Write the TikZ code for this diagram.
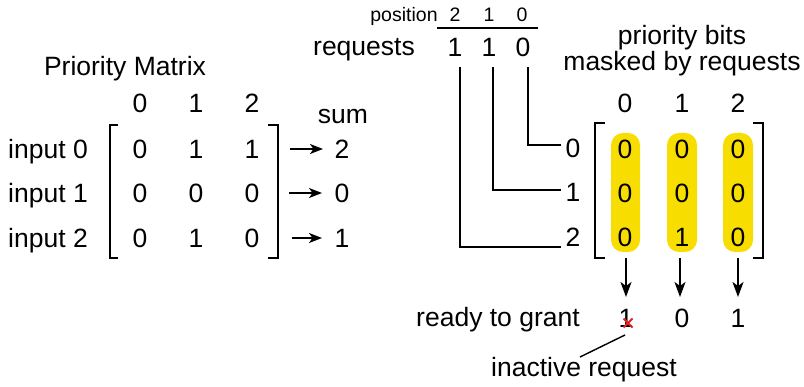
\documentclass[tikz,border=0pt]{standalone}
\usepackage{fontspec}
\setmainfont{Liberation Sans}
\usetikzlibrary{arrows.meta,calc}
\definecolor{pillyellow}{RGB}{248,222,0}
\definecolor{xred}{RGB}{225,35,35}
\begin{document}
\begin{tikzpicture}[x=1pt,y=-1pt,
  txt/.style={inner sep=0pt,anchor=base,font=\fontsize{26.5}{30}\selectfont},
  smalltxt/.style={inner sep=0pt,anchor=base,font=\fontsize{19.5}{22}\selectfont},
  ln/.style={line width=1.6pt},
  brk/.style={line width=1.8pt},
  arr/.style={line width=1.6pt,-{Stealth[length=13pt,width=10pt,inset=3.5pt]}},
  darr/.style={line width=1.6pt,-{Stealth[length=15pt,width=11pt,inset=4pt]}},
  pill/.style={fill=pillyellow,rounded corners=12pt,draw=none}
]
\useasboundingbox (0,0) rectangle (804,387);
% ---------- left: priority matrix
\node[txt] (title) at (125,76) {Priority Matrix};
\node[txt] (lc0) at (140,112.5) {0};
\node[txt] (lc1) at (196,112.5) {1};
\node[txt] (lc2) at (252,112.5) {2};
\node[txt] (in0) at (48,158.5) {input 0};
\node[txt] (in1) at (48,202.5) {input 1};
\node[txt] (in2) at (48,247.5) {input 2};
\node[txt] (m00) at (140,158.5) {0};
\node[txt] (m01) at (196,158.5) {1};
\node[txt] (m02) at (252,158.5) {1};
\node[txt] (m10) at (140,202.5) {0};
\node[txt] (m11) at (196,202.5) {0};
\node[txt] (m12) at (252,202.5) {0};
\node[txt] (m20) at (140,247.5) {0};
\node[txt] (m21) at (196,247.5) {1};
\node[txt] (m22) at (252,247.5) {0};
\draw[brk] (118,125) -- (110,125) -- (110,258) -- (118,258);
\draw[brk] (268,125) -- (278,125) -- (278,258) -- (268,258);
\node[txt] (sumlbl) at (343,124) {sum};
\node[txt] (s0) at (342,158.5) {2};
\node[txt] (s1) at (342,202.5) {0};
\node[txt] (s2) at (342,247.5) {1};
\coordinate (a0s) at (290,149);
\coordinate (a0e) at (323,149);
\coordinate (a1s) at (289,193);
\coordinate (a1e) at (322,193);
\coordinate (a2s) at (292,238);
\coordinate (a2e) at (322,238);
\draw[arr] (a0s) -- (a0e);
\draw[arr] (a1s) -- (a1e);
\draw[arr] (a2s) -- (a2e);
% ---------- requests
\node[smalltxt] (pos) at (404,22) {position};
\node[smalltxt] (p2) at (455,22) {2};
\node[smalltxt] (p1) at (489,22) {1};
\node[smalltxt] (p0) at (522,22) {0};
\draw[ln] (437,28) -- (538,28);
\node[txt] (req) at (364,56) {requests};
\node[txt] (r2) at (455,56.5) {1};
\node[txt] (r1) at (489,56.5) {1};
\node[txt] (r0) at (523,56.5) {0};
% ---------- right matrix
\node[txt] (pb1) at (682,45) {priority bits};
\node[txt] (pb2) at (682,71) {masked by requests};
\node[txt] (rc0) at (625,112.5) {0};
\node[txt] (rc1) at (682,112.5) {1};
\node[txt] (rc2) at (738,112.5) {2};
\fill[pill] (611,133) rectangle (640,252);
\fill[pill] (667,133) rectangle (697,252);
\fill[pill] (723,133) rectangle (753,252);
\node[txt] (rl0) at (573,157.5) {0};
\node[txt] (rl1) at (573,201.5) {1};
\node[txt] (rl2) at (573,246.5) {2};
\node[txt] (q00) at (625,158.5) {0};
\node[txt] (q01) at (682,158.5) {0};
\node[txt] (q02) at (738,158.5) {0};
\node[txt] (q10) at (625,202.5) {0};
\node[txt] (q11) at (682,202.5) {0};
\node[txt] (q12) at (738,202.5) {0};
\node[txt] (q20) at (625,246.5) {0};
\node[txt] (q21) at (682,246.5) {1};
\node[txt] (q22) at (738,246.5) {0};
\draw[brk] (605,123) -- (595,123) -- (595,258) -- (605,258);
\draw[brk] (753,123) -- (763,123) -- (763,258) -- (753,258);
% connectors from requests to row labels
\coordinate (c0) at (561,145);
\coordinate (c1) at (561,190);
\coordinate (c2) at (561,247);
\draw[ln] (528,67) -- (528,145) -- (c0);
\draw[ln] (493,67) -- (493,190) -- (c1);
\draw[ln] (460,67) -- (460,247) -- (c2);
% ---------- ready to grant
\node[txt] (rtg) at (498,327) {ready to grant};
\node[txt] (g0) at (626,327.5) {1};
\node[txt] (g1) at (682,327.5) {0};
\node[txt] (g2) at (738,327.5) {1};
\coordinate (d0) at (626,258);
\coordinate (d1) at (680,258);
\coordinate (d2) at (738,258);
\draw[darr] (d0) -- (626,297);
\draw[darr] (d1) -- (680,297);
\draw[darr] (d2) -- (738,297);
\coordinate (xc) at (628,323);
\draw[xred,line width=2pt] ($(xc)+(-4.5,-4.5)$) -- ($(xc)+(4.5,4.5)$);
\draw[xred,line width=2pt] ($(xc)+(-4.5,4.5)$) -- ($(xc)+(4.5,-4.5)$);
\node[txt] (inact) at (584,377) {inactive request};
\coordinate (lnA) at (625,335);
\coordinate (lnB) at (580,357);
\draw[line width=1.4pt] (lnA) -- (lnB);
\end{tikzpicture}
\end{document}
